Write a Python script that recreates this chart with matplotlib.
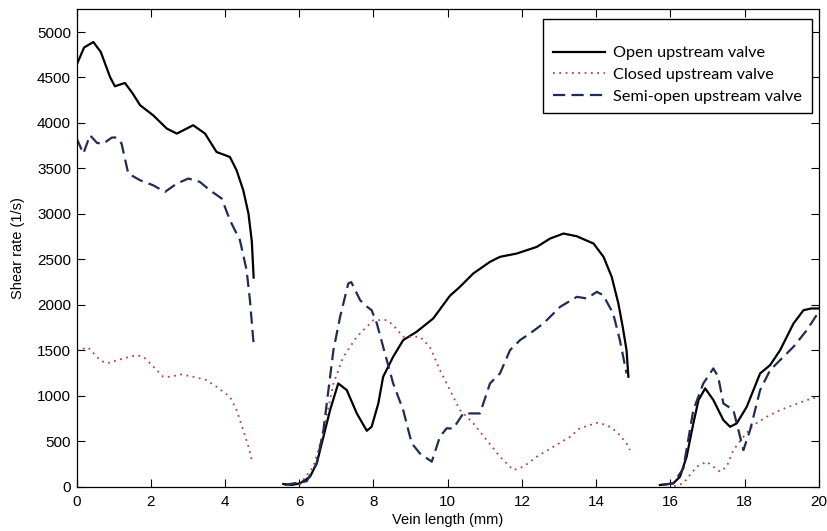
import numpy as np
import matplotlib
matplotlib.use("Agg")
import matplotlib.pyplot as plt

nan = np.nan

# Open upstream valve (black solid), three vein segments split by NaN
open_x = [0, 0.2, 0.45, 0.65, 0.9, 1.03, 1.3, 1.5, 1.71, 2.06, 2.43, 2.7, 3.14, 3.46,
          3.77, 4.13, 4.31, 4.49, 4.63, 4.72, 4.77, nan,
          5.57, 5.8, 6.02, 6.29, 6.47, 6.65, 6.83, 7.05, 7.28, 7.55, 7.82, 7.95, 8.13,
          8.26, 8.53, 8.8, 9.16, 9.61, 9.79, 10.06, 10.33, 10.69, 11.14, 11.41, 11.86,
          12.4, 12.76, 13.12, 13.48, 13.93, 14.2, 14.42, 14.6, 14.72, 14.82, 14.87, nan,
          15.72, 16.08, 16.26, 16.44, 16.62, 16.76, 16.94, 17.16, 17.43, 17.61, 17.79,
          18.06, 18.42, 18.69, 18.96, 19.32, 19.59, 19.8, 20]
open_y = [4640, 4830, 4890, 4780, 4505, 4403, 4440, 4330, 4195, 4085, 3938, 3883, 3975, 3883,
          3681, 3626, 3480, 3260, 3004, 2700, 2300, nan,
          30, 20, 37, 110, 257, 549, 843, 1136, 1062, 806, 615, 659, 916,
          1209, 1429, 1612, 1703, 1850, 1950, 2100, 2198, 2345, 2473, 2528, 2564,
          2637, 2729, 2784, 2754, 2674, 2528, 2308, 2015, 1750, 1502, 1209, nan,
          19, 37, 110, 330, 696, 953, 1081, 953, 733, 659, 696,
          879, 1246, 1337, 1502, 1795, 1941, 1960, 1960]

# Closed upstream valve (red dotted)
closed_x = [0, 0.31, 0.63, 0.81, 1.26, 1.62, 1.8, 2.07, 2.33, 2.51, 2.83, 3.14, 3.5, 3.77,
            4.13, 4.31, 4.49, 4.63, 4.72, nan,
            6.0, 6.38, 6.65, 6.92, 7.19, 7.55, 8.0, 8.36, 8.53, 8.8, 9.25, 9.52, 9.79,
            10.06, 10.33, 10.69, 11.05, 11.41, 11.77, 12.04, 12.4, 12.85, 13.3, 13.56,
            14.02, 14.29, 14.56, 14.82, 14.91, nan,
            16.1, 16.35, 16.71, 16.98, 17.34, 17.52, 17.7, 17.97, 18.24, 18.6, 18.96,
            19.32, 19.68, 20]
closed_y = [1500, 1531, 1392, 1356, 1411, 1447, 1429, 1319, 1209, 1209, 1235, 1209, 1172, 1099,
            989, 843, 623, 440, 293, nan,
            20, 220, 600, 1136, 1429, 1649, 1832, 1832, 1777, 1649, 1649, 1539, 1282,
            1062, 843, 696, 513, 330, 183, 220, 330, 440, 549, 642,
            703, 678, 604, 477, 403, nan,
            5, 37, 220, 275, 165, 220, 403, 549, 678, 769, 843,
            898, 953, 989]

# Semi-open upstream valve (navy dashed)
semi_x = [0, 0.18, 0.36, 0.55, 0.72, 0.95, 1.08, 1.21, 1.39, 1.71, 2.06, 2.38, 2.7, 3.01,
          3.32, 3.59, 3.91, 4.13, 4.4, 4.58, 4.67, 4.76, 4.77, nan,
          5.6, 5.9, 6.2, 6.47, 6.65, 6.92, 7.1, 7.32, 7.4, 7.64, 7.83, 7.95, 8.09, 8.26,
          8.53, 8.8, 9.03, 9.25, 9.57, 9.79, 9.97, 10.15, 10.42, 10.69, 10.87, 11.14,
          11.41, 11.68, 11.95, 12.22, 12.58, 13.03, 13.48, 13.75, 14.02, 14.19, 14.46,
          14.64, 14.82, nan,
          15.8, 16.08, 16.35, 16.62, 16.89, 17.16, 17.29, 17.43, 17.7, 17.88, 17.97,
          18.15, 18.42, 18.69, 19.05, 19.32, 19.68, 20]
semi_y = [3830, 3664, 3865, 3780, 3774, 3840, 3840, 3774, 3444, 3370, 3315, 3242, 3334, 3389,
          3352, 3260, 3169, 2931, 2711, 2381, 2051, 1612, 1580, nan,
          20, 40, 60, 257, 623, 1502, 1868, 2235, 2250, 2051, 1978, 1941, 1795, 1539,
          1136, 843, 477, 367, 275, 549, 642, 640, 806, 806, 806, 1136,
          1246, 1502, 1612, 1686, 1795, 1978, 2088, 2070, 2143, 2106, 1905,
          1612, 1246, nan,
          20, 37, 200, 843, 1136, 1301, 1209, 916, 843, 549, 403,
          623, 1062, 1282, 1429, 1539, 1722, 1923]

x_ticks = [0, 2, 4, 6, 8, 10, 12, 14, 16, 18, 20]
y_ticks = [0, 500, 1000, 1500, 2000, 2500, 3000, 3500, 4000, 4500, 5000]

plt.rcParams['font.family'] = ['Liberation Sans', 'DejaVu Sans']

fig = plt.figure(figsize=(8.28, 5.31), dpi=100)
ax = fig.add_axes([0.0926, 0.0834, 0.8962, 0.8991])

ax.plot(open_x, open_y, color='black', lw=1.6, label='Open upstream valve')
ax.plot(closed_x, closed_y, color='#b8403f', lw=1.3, ls=(0, (1, 2.5)),
        label='Closed upstream valve')
ax.plot(semi_x, semi_y, color='#1f2d55', lw=1.6, ls=(0, (5.5, 2.8)),
        label='Semi-open upstream valve')

ax.set_xlim(0, 20)
ax.set_ylim(0, 5250)
ax.set_xticks(x_ticks)
ax.set_yticks(y_ticks)
ax.tick_params(direction='in', top=True, right=True, length=6, width=0.8,
               labelsize=11, pad=4)
ax.tick_params(axis='x', pad=6)
for s in ax.spines.values():
    s.set_linewidth(0.9)

ax.set_xlabel('Vein length (mm)', fontsize=10.5, labelpad=3)
ax.set_ylabel('Shear rate (1/s)', fontsize=10.5, labelpad=9)

# empty title keeps the blank strip at the top of the original legend box
leg = ax.legend(loc='upper right', bbox_to_anchor=(0.991, 0.980), borderaxespad=0,
                fancybox=False, edgecolor='black', framealpha=1,
                prop={'family': 'Lato', 'size': 11.7}, handlelength=3.2,
                handletextpad=0.5, labelspacing=0.45, borderpad=0.6,
                title=' ', title_fontsize=8)
leg.get_frame().set_linewidth(1.0)

fig.savefig('out.png', dpi=100)
